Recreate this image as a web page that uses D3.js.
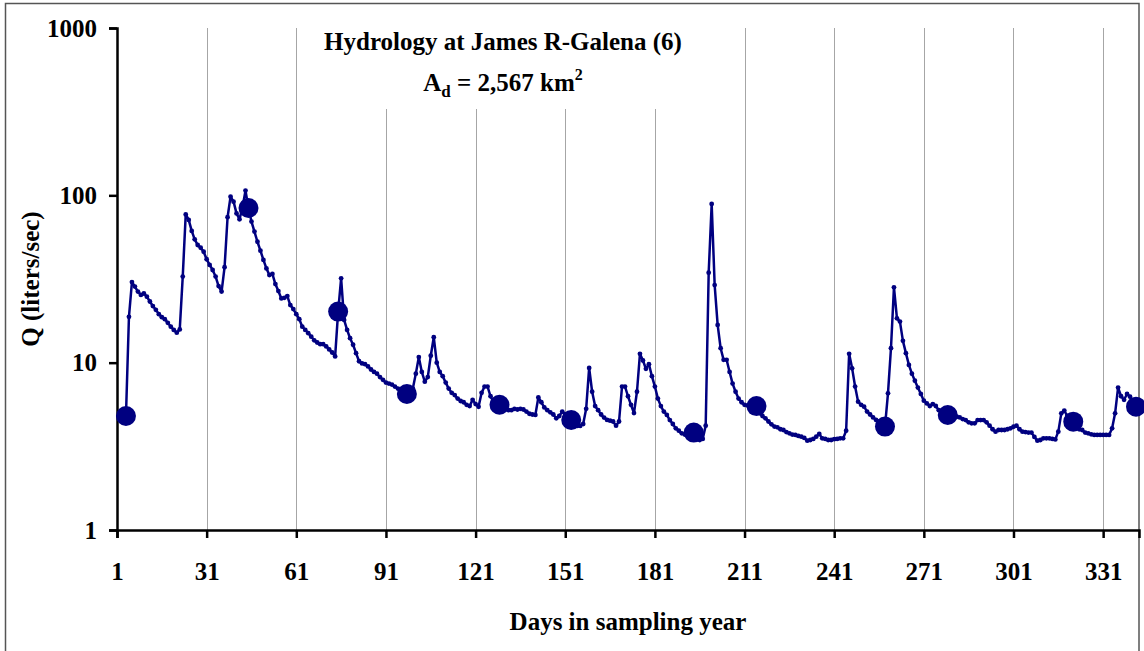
<!DOCTYPE html>
<html>
<head>
<meta charset="utf-8">
<script src="https://cdn.jsdelivr.net/npm/d3@7/dist/d3.min.js"></script>
<style>
    html, body { margin: 0; padding: 0; background: #fff; }
    svg { display: block; }
    text { font-family: "Liberation Serif", "Times New Roman", serif; font-weight: bold; fill: #000; }
</style>
</head>
<body>
<div id="chart"></div>
<script>
// 日流量 (liters/sec)，从第 startDay 天开始，每天一个值
const startDay = 4;
const dailyQ = [
    4.8, 18.8, 30.3, 28.5, 26.6, 25.4, 25.9, 24.8, 23.2, 21.8,          // 4-13
    20.7, 19.5, 18.7, 18.2, 17.3, 16.4, 15.7, 15.1, 15.8, 32.7,         // 14-23
    76.9, 71.3, 61.3, 54.6, 50.5, 48.6, 46.0, 41.5, 38.4, 35.8,         // 24-33
    32.7, 28.7, 26.6, 37.2, 74.0, 98.2, 91.7, 78.0, 71.9, 85.0,         // 34-43
    106.7, 84.0, 69.7, 60.7, 52.8, 46.7, 41.1, 36.6, 33.4, 33.9,        // 44-53
    29.5, 26.8, 24.2, 24.4, 25.0, 22.1, 20.9, 19.5, 18.2, 16.4,         // 54-63
    15.7, 15.0, 14.3, 13.6, 13.2, 12.9, 12.9, 12.5, 12.0, 11.5,         // 64-73
    10.9, 20.2, 31.9, 18.0, 15.7, 14.0, 12.8, 11.4, 10.2, 9.9,          // 74-83
    9.8, 9.5, 9.1, 8.8, 8.6, 8.2, 7.9, 7.6, 7.5, 7.4,                   // 84-93
    7.2, 7.0, 6.9, 6.7, 6.5, 6.6, 7.0, 8.6, 10.8, 8.8,                  // 94-103
    7.7, 8.2, 11.0, 14.2, 10.0, 8.8, 8.3, 7.6, 7.0, 6.6,                // 104-113
    6.4, 6.1, 5.9, 5.8, 5.6, 5.5, 6.0, 5.66, 5.45, 6.6,                 // 114-123
    7.2, 7.2, 6.3, 5.8, 5.7, 5.6, 5.45, 5.3, 5.2, 5.2,                  // 124-133
    5.3, 5.25, 5.3, 5.25, 5.1, 4.95, 4.9, 4.87, 6.2, 5.8,               // 134-143
    5.4, 5.2, 5.05, 4.9, 4.65, 4.8, 5.1, 4.9, 4.6, 4.54,                // 144-153
    4.3, 4.19, 4.19, 4.3, 5.3, 9.3, 6.7, 5.5, 5.2, 4.9,                 // 154-163
    4.7, 4.55, 4.5, 4.45, 4.2, 4.45, 7.2, 7.2, 6.3, 5.6,                // 164-173
    5.0, 6.7, 11.3, 10.3, 9.2, 9.8, 8.3, 7.2, 6.1, 5.5,                 // 174-183
    5.1, 4.87, 4.54, 4.3, 4.05, 3.92, 3.78, 3.72, 3.6, 3.53,            // 184-193
    3.82, 3.6, 3.45, 3.5, 4.2, 34.5, 88.8, 29.1, 16.8, 12.2,            // 194-203
    10.4, 10.4, 8.8, 7.5, 6.7, 6.1, 5.8, 5.6, 5.55, 5.5,                // 204-213
    5.5, 5.5, 5.0, 4.8, 4.65, 4.45, 4.28, 4.15, 4.11, 4.0,              // 214-223
    3.96, 3.85, 3.78, 3.72, 3.7, 3.65, 3.61, 3.55, 3.42, 3.45,          // 224-233
    3.5, 3.61, 3.75, 3.53, 3.5, 3.45, 3.45, 3.49, 3.5, 3.53,            // 234-243
    3.53, 3.92, 11.3, 9.25, 7.2, 5.85, 5.6, 5.46, 5.1, 4.9,             // 244-253
    4.71, 4.55, 4.44, 4.24, 4.15, 6.56, 12.2, 28.2, 18.4, 17.6,         // 254-263
    13.5, 11.4, 9.7, 8.6, 7.8, 7.1, 6.5, 5.93, 5.71, 5.51,              // 264-273
    5.66, 5.51, 5.2, 5.0, 4.95, 4.87, 4.85, 4.8, 4.75, 4.71,            // 274-283
    4.6, 4.54, 4.4, 4.34, 4.34, 4.54, 4.54, 4.54, 4.4, 4.2,             // 284-293
    4.0, 3.87, 3.96, 3.96, 3.96, 4.0, 4.05, 4.14, 4.2, 4.0,             // 294-303
    3.87, 3.85, 3.82, 3.82, 3.6, 3.42, 3.45, 3.53, 3.53, 3.53,          // 304-313
    3.5, 3.48, 3.87, 4.98, 5.17, 4.8, 4.6, 4.44, 4.2, 4.0,              // 314-323
    3.96, 3.82, 3.78, 3.73, 3.7, 3.7, 3.7, 3.7, 3.7, 3.7,               // 324-333
    4.05, 4.98, 7.1, 6.3, 6.0, 6.5, 6.26, 5.8, 5.46                     // 334-342
];

// 采样日 (大圆点)
const sampleDays = [4, 45, 75, 98, 129, 153, 194, 215, 258, 279, 321, 342];
const sampleQ = [4.8, 84.0, 20.2, 6.5, 5.6, 4.54, 3.82, 5.5, 4.15, 4.87, 4.44, 5.46];

// 坐标轴刻度
const xTicks = [1, 31, 61, 91, 121, 151, 181, 211, 241, 271, 301, 331];
const yTicks = [1, 10, 100, 1000];

const titleText = "Hydrology at James R-Galena (6)";
const xLabel = "Days in sampling year";
const yLabel = "Q (liters/sec)";

;(function (win) {

    "use strict";

    // 配置
    var _config = {
        width: 1144,
        height: 651,
        plot: {left: 117, right: 1139, top: 28, bottom: 530},
        dayDomain: [1, 343],
        qDomain: [1, 1000],
        lineColor: '#000080',
        gridColor: '#a6a6a6'
    };

    var _tool = {

        initSvg: function () {
            return d3.select('#chart').append('svg')
                .attr('width', _config.width)
                .attr('height', _config.height);
        },

        drawChart: function () {
            var svg = _tool.initSvg(),
                p = _config.plot;

            var x = d3.scaleLinear().domain(_config.dayDomain).range([p.left, p.right]);
            var y = d3.scaleLog().domain(_config.qDomain).range([p.bottom, p.top]);

            // 外框
            svg.append('rect')
                .attr('x', 5.5).attr('y', 3.5)
                .attr('width', p.right - 5.5).attr('height', 700)
                .attr('fill', 'none')
                .attr('stroke', '#555')
                .attr('stroke-width', 1.5);

            // 竖向网格线
            svg.append('g').attr('class', 'grid')
                .selectAll('line')
                .data(xTicks.slice(1))
                .enter()
                .append('line')
                .attr('x1', function (d) { return Math.round(x(d)) + 0.5; })
                .attr('x2', function (d) { return Math.round(x(d)) + 0.5; })
                .attr('y1', p.top)
                .attr('y2', p.bottom)
                .attr('stroke', _config.gridColor)
                .attr('stroke-width', 1);

            // 标题背景 (遮住网格线)
            svg.append('rect')
                .attr('x', 305).attr('y', p.top)
                .attr('width', 400).attr('height', 81)
                .attr('fill', '#fff');

            // y 轴
            var yAxis = d3.axisLeft(y)
                .tickValues(yTicks)
                .tickFormat(d3.format('d'))
                .tickSizeOuter(0)
                .tickSize(8)
                .tickPadding(12);

            var gy = svg.append('g')
                .attr('transform', 'translate(' + p.left + ',0)')
                .call(yAxis);

            // x 轴
            var xAxis = d3.axisBottom(x)
                .tickValues(xTicks)
                .tickFormat(d3.format('d'))
                .tickSizeOuter(0)
                .tickSize(8)
                .tickPadding(24);

            var gx = svg.append('g')
                .attr('transform', 'translate(0,' + p.bottom + ')')
                .call(xAxis);

            [gx, gy].forEach(function (g) {
                g.select('.domain').attr('stroke', '#000').attr('stroke-width', 2.5);
                g.selectAll('.tick line').attr('stroke', '#000').attr('stroke-width', 2.5);
                g.selectAll('.tick text')
                    .attr('fill', '#000')
                    .style('font-size', '25px')
                    .style('font-family', '"Liberation Serif", serif')
                    .style('font-weight', 'bold');
            });

            // 流量曲线
            var series = dailyQ.map(function (q, i) {
                return {day: startDay + i, q: q};
            });

            var line = d3.line()
                .x(function (d) { return x(d.day); })
                .y(function (d) { return y(d.q); });

            svg.append('path')
                .datum(series)
                .attr('d', line)
                .attr('fill', 'none')
                .attr('stroke', _config.lineColor)
                .attr('stroke-width', 2.5)
                .attr('stroke-linejoin', 'round');

            svg.append('g').attr('class', 'dots')
                .selectAll('circle')
                .data(series)
                .enter()
                .append('circle')
                .attr('cx', function (d) { return x(d.day); })
                .attr('cy', function (d) { return y(d.q); })
                .attr('r', 2.4)
                .attr('fill', _config.lineColor);

            // 采样点
            svg.append('g').attr('class', 'samples')
                .selectAll('circle')
                .data(sampleDays)
                .enter()
                .append('circle')
                .attr('cx', function (d) { return x(d); })
                .attr('cy', function (d, i) { return y(sampleQ[i]); })
                .attr('r', 10)
                .attr('fill', _config.lineColor);

            // 标题
            var cx = 503;
            svg.append('text')
                .attr('x', cx).attr('y', 50)
                .attr('text-anchor', 'middle')
                .style('font-size', '25px')
                .text(titleText);

            var sub = svg.append('text')
                .attr('x', cx).attr('y', 91)
                .attr('text-anchor', 'middle')
                .style('font-size', '25px');
            sub.append('tspan').text('A');
            sub.append('tspan').attr('dy', 6).style('font-size', '17px').text('d');
            sub.append('tspan').attr('dy', -6).text(' = 2,567 km');
            sub.append('tspan').attr('dy', -11).style('font-size', '16px').text('2');

            // 坐标轴标题
            svg.append('text')
                .attr('x', (p.left + p.right) / 2).attr('y', 630)
                .attr('text-anchor', 'middle')
                .style('font-size', '25px')
                .text(xLabel);

            svg.append('text')
                .attr('transform', 'translate(39,' + ((p.top + p.bottom) / 2) + ') rotate(-90)')
                .attr('text-anchor', 'middle')
                .style('font-size', '25px')
                .text(yLabel);
        }
    };

    _tool.drawChart();

})(window);
</script>
</body>
</html>
